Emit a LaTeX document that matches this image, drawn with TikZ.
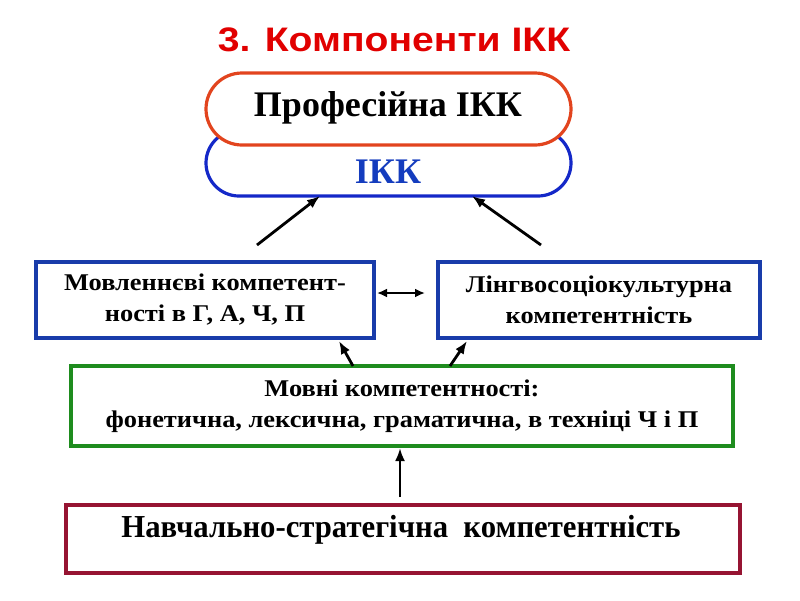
\documentclass[tikz,border=0pt]{standalone}
\usepackage{fontspec}
\setmainfont{Liberation Serif}
\newfontfamily\condb[FakeStretch=1.1]{Liberation Serif Bold}
\newfontfamily\plainb{Liberation Serif Bold}
\newfontfamily\botb[FakeStretch=0.96]{Liberation Serif Bold}
\newfontfamily\titlefont[FakeStretch=1.15]{Liberation Sans Bold}
\usetikzlibrary{arrows.meta}
\definecolor{tred}{RGB}{225,0,0}
\definecolor{sred}{RGB}{226,68,30}
\definecolor{sblue}{RGB}{20,40,200}
\definecolor{bblue}{RGB}{25,60,170}
\definecolor{bgreen}{RGB}{30,140,30}
\definecolor{bmaroon}{RGB}{150,20,50}
\definecolor{ikkblue}{RGB}{20,60,190}
\tikzset{
  box/.style={draw, line width=3.2pt, fill=white},
  arr/.style={line width=2.8pt, -{Latex[length=13pt,width=10pt]}},
  darr/.style={line width=2.8pt, {Latex[length=10pt,width=9pt]}-{Latex[length=10pt,width=9pt]}},
}
\begin{document}
\begin{tikzpicture}[x=1pt,y=-1pt]
\useasboundingbox (0,0) rectangle (800,600);
\node[font=\titlefont\fontsize{34}{38}\selectfont, text=tred] (title) at (394,40) {3. Компоненти ІКК};
% stadiums
\draw[draw=sblue, line width=3.2pt, rounded corners=33pt, fill=white] (206,130) rectangle (571,196);
\node[font=\plainb\fontsize{36}{42}\selectfont, text=ikkblue] (ikk) at (388,172) {ІКК};
\draw[draw=sred, line width=3.2pt, rounded corners=36pt, fill=white] (206,73) rectangle (571,145);
\node[font=\plainb\fontsize{36}{42}\selectfont] (prof) at (388,108) {Професійна ІКК};
\coordinate (ikkL) at (320,196);
\coordinate (ikkR) at (472,196);
% middle boxes
\node[box, draw=bblue, minimum width=338pt, minimum height=76pt, align=center,
  font=\condb\fontsize{24}{31}\selectfont] (mov) at (205,300) {Мовленнєві компетент-\\ності в Г, А, Ч, П};
\node[box, draw=bblue, minimum width=322pt, minimum height=76pt, align=center,
  font=\condb\fontsize{24}{31}\selectfont] (ling) at (599,300) {Лінгвосоціокультурна\\компетентність};
% green box
\node[box, draw=bgreen, minimum width=662pt, minimum height=80pt, align=center,
  font=\condb\fontsize{24}{31}\selectfont] (movni) at (402,406) {Мовні компетентності:\\фонетична, лексична, граматична, в техніці Ч і П};
% bottom box
\node[box, draw=bmaroon, minimum width=674pt, minimum height=68pt] (navch) at (403,539) {};
\node[font=\botb\fontsize{32}{36}\selectfont] (navchtxt) at (401,530) {Навчально-стратегічна\ \ компетентність};
% arrows
\coordinate (a1s) at (257,245);
\coordinate (a2s) at (541,245);
\draw[arr] (a1s) -- (ikkL);
\draw[arr] (a2s) -- (ikkR);
\coordinate (dl) at (377,293);
\coordinate (dr) at (425,293);
\draw[darr] (dl) -- (dr);
\coordinate (g1s) at (353,366);
\coordinate (g1e) at (339,341);
\coordinate (g2s) at (450,366);
\coordinate (g2e) at (467,341);
\draw[arr] (g1s) -- (g1e);
\draw[arr] (g2s) -- (g2e);
\coordinate (bs) at (400,497);
\coordinate (be) at (400,448);
\draw[arr] (bs) -- (be);
\end{tikzpicture}
\end{document}
